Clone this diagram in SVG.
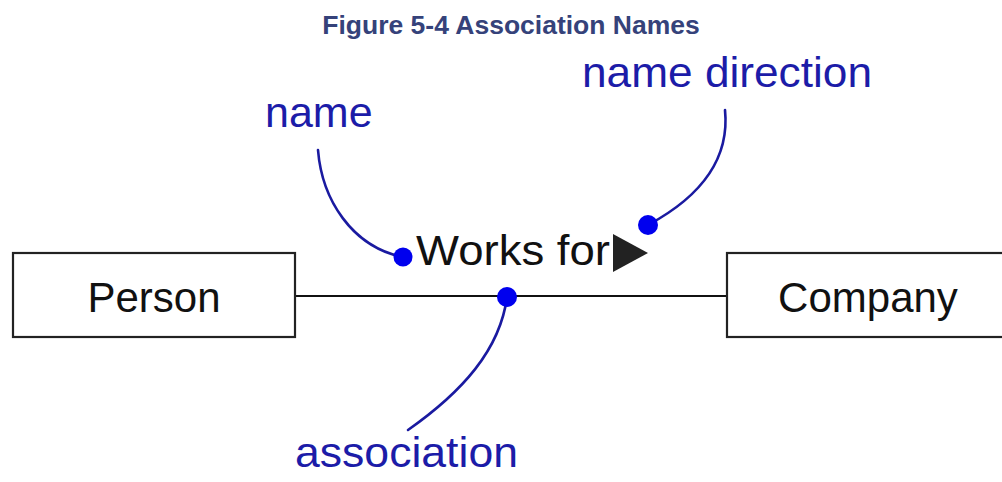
<svg xmlns="http://www.w3.org/2000/svg" width="1002" height="482" viewBox="0 0 1002 482">
<style>
.title{font-family:"Liberation Sans",Arial,sans-serif;font-weight:bold;font-size:26.5px;fill:#35427a}
.box{fill:#fff;stroke:#222;stroke-width:2.2}
.btxt{font-family:"Liberation Sans",Arial,sans-serif;font-size:42px;fill:#111}
.lbl{font-family:"Liberation Sans",Arial,sans-serif;font-size:43px;fill:#1c1ca8}
.lead{fill:none;stroke:#1a1aa0;stroke-width:2.6;stroke-linecap:round}
.dot{fill:#0000ee}
.assoc{stroke:#111;stroke-width:2}
</style>
<rect width="1002" height="482" fill="#fff"/>
<text class="title" x="511" y="34" text-anchor="middle">Figure 5-4 Association Names</text>
<g id="connectors">
  <line class="assoc" x1="295" y1="296" x2="727" y2="296"/>
  <path class="lead" d="M318,150 C322,200 352,246 402,257"/>
  <path class="lead" d="M725,110 C730,160 700,197 648,225"/>
  <path class="lead" d="M507,297 C500,350 462,392 408,430"/>
</g>
<g id="person">
  <rect class="box" x="13" y="253" width="282" height="84"/>
  <text class="btxt" x="154" y="312" text-anchor="middle">Person</text>
</g>
<g id="company">
  <rect class="box" x="727" y="253" width="290" height="84"/>
  <text class="btxt" x="868" y="312" text-anchor="middle" font-size="43">Company</text>
</g>
<g id="assoc-name">
  <text class="btxt" x="416" y="265" font-size="44" textLength="194" lengthAdjust="spacingAndGlyphs">Works for</text>
  <polygon points="613,234 648,253 613,272" fill="#222"/>
</g>
<g id="label-name">
  <text class="lbl" x="265" y="127">name</text>
  <circle class="dot" cx="403" cy="257" r="9.5"/>
</g>
<g id="label-direction">
  <text class="lbl" x="582" y="87" textLength="290" lengthAdjust="spacingAndGlyphs">name direction</text>
  <circle class="dot" cx="648" cy="225" r="10"/>
</g>
<g id="label-association">
  <text class="lbl" x="295" y="467" font-size="40" textLength="223" lengthAdjust="spacingAndGlyphs">association</text>
  <circle class="dot" cx="507" cy="297" r="10"/>
</g>
</svg>
